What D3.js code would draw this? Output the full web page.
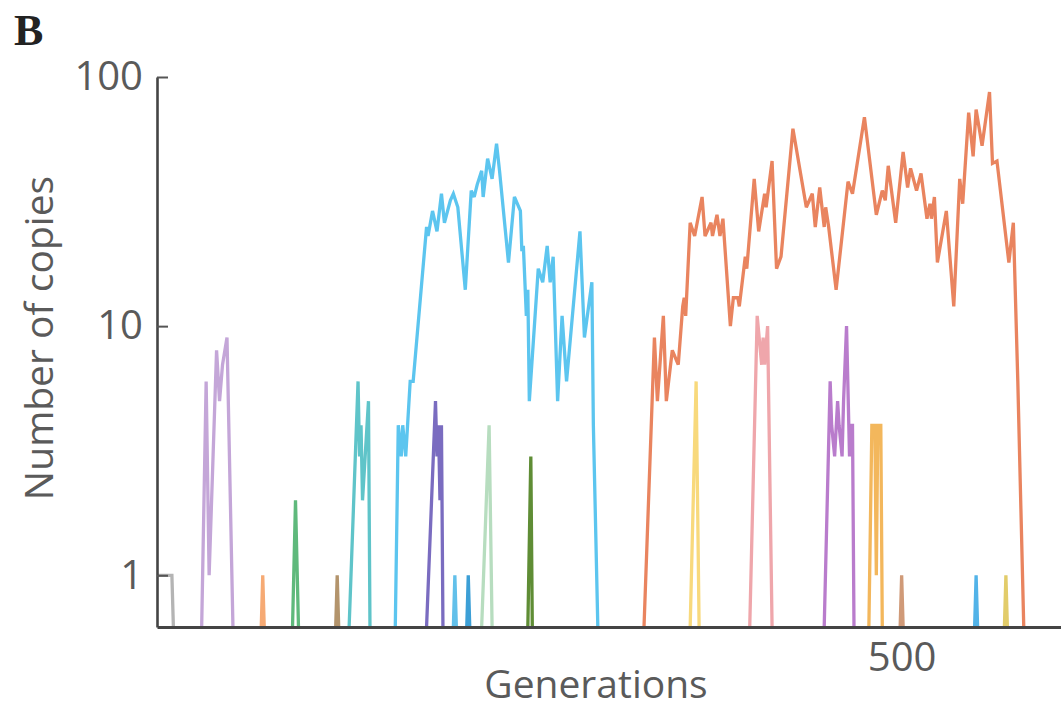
<!DOCTYPE html>
<html>
<head>
<meta charset="utf-8">
<script src="https://cdn.jsdelivr.net/npm/d3@7"></script>
<style>
  html, body { margin: 0; padding: 0; background: #fff; }
  svg { display: block; }
</style>
</head>
<body>
<svg id="chart" width="1061" height="710"></svg>
<script>
// ---------- data: [generation, number of copies] (0 = lineage absent) ----------
const yTicks = [1, 10, 100];
const xTicks = [500];

const grayLineage   = [[0,1],[10,1],[11,0]];
const lavender      = [[30,0],[33,6],[35,1],[40,8],[42,5],[44,7],[47,9],[51,0]];
const orangeSpike   = [[70,0],[71,1],[72,0]];
const greenSpike    = [[91,0],[93,2],[95,0]];
const tanSpike      = [[120,0],[121,1],[122,0]];
const tealLineage   = [[129,0],[135,6],[136,3],[137,4],[138,2],[142,5],[143,0]];
const blueLineage   = [[160,0],[162,4],[164,3],[165,4],[167,3],[170,6],[172,6],[181,25],[182,23],[185,29],[188,24],[191,34],[193,26],[197,32],[199,34],[202,30],[207,14],[211,35],[213,33],[215,37],[218,42],[219,33],[222,47],[225,39],[228,54],[230,42],[236,18],[240,33],[244,29],[245,20],[246,21],[248,11],[249,14],[250,5],[256,17],[259,15],[262,21],[264,15],[266,19],[269,5],[272,11],[275,6],[284,24],[287,9],[292,15],[293,4],[296,0]];
const indigoLineage = [[181,0],[187,5],[188,3],[189,4],[190,2],[191,4],[192,0]];
const skySpike      = [[199,0],[200,1],[201,0]];
const deepBlueSpike = [[208,0],[209,1],[210,0]];
const paleGreen     = [[218,0],[223,4],[225,0]];
const oliveSpike    = [[249,0],[251,3],[252,0]];
const redLineage    = [[327,0],[334,9],[336,5],[340,11],[342,5],[346,8],[350,7],[353,12],[354,13],[355,11],[358,26],[361,23],[366,33],[368,23],[372,26],[373,23],[376,28],[378,23],[380,27],[385,10],[387,13],[390,13],[391,12],[395,19],[396,17],[401,39],[404,24],[408,34],[409,30],[413,46],[416,17],[419,19],[427,62],[436,30],[440,34],[442,25],[445,36],[448,25],[449,30],[451,25],[456,14],[464,38],[467,34],[475,69],[483,28],[487,35],[489,32],[491,44],[496,26],[501,50],[504,36],[506,43],[510,35],[513,41],[517,27],[519,31],[520,27],[522,33],[524,18],[530,29],[535,12],[539,39],[541,31],[545,72],[548,48],[550,74],[554,53],[559,87],[561,45],[564,46],[572,18],[575,26],[578,6],[582,0]];
const yellowLineage = [[358,0],[362,6],[364,0]];
const pinkLineage   = [[398,0],[403,11],[406,7],[407,9],[408,7],[410,10],[413,0]];
const violetLineage = [[448,0],[452,6],[453,4],[455,3],[457,5],[458,4],[460,3],[461,5],[463,10],[465,3],[466,4],[467,4],[468,0]];
const amberLineage  = [[478,0],[480,4],[482,4],[483,1],[484,4],[486,4],[487,0]];
const tanSpike2     = [[499,0],[500,1],[501,0]];
const blueSpike2    = [[549,0],[550,1],[551,0]];
const goldSpike     = [[569,0],[570,1],[571,0]];

const seriesList = [grayLineage, lavender, orangeSpike, greenSpike, tanSpike, tealLineage,
  blueLineage, indigoLineage, skySpike, deepBlueSpike, paleGreen, oliveSpike,
  redLineage, yellowLineage, pinkLineage, violetLineage, amberLineage, tanSpike2, blueSpike2, goldSpike];
const seriesColors = ["#b4b4b4", "#c4a6d8", "#f6aa74", "#5fb97c", "#b3946c", "#5fc4c9",
  "#5cc5ef", "#7a6cc0", "#62c0ea", "#3c9fd6", "#b7ddbf", "#5f8d35",
  "#e9845f", "#f8d97c", "#efa6ab", "#b97ccc", "#f3b75c", "#d09a78", "#52b3e8", "#e2cc6a"];

// ---------- chart ----------
const svg = d3.select("#chart");
const yMin = 0.62;
const x = d3.scaleLinear().domain([0, 607]).range([157, 1061]);
const y = d3.scaleLog().domain([yMin, 100]).range([627, 77]);

const line = d3.line()
  .x(d => x(d[0]))
  .y(d => y(Math.max(d[1], yMin)));

const fontFam = "'Open Sans', 'Noto Sans', sans-serif";

svg.append("g").selectAll("path")
  .data(seriesList)
  .join("path")
  .attr("d", line)
  .attr("fill", "none")
  .attr("stroke", (d, i) => seriesColors[i])
  .attr("stroke-width", 3.3)
  .attr("stroke-linejoin", "miter")
  .attr("stroke-miterlimit", 3);

// y axis
const yAxis = svg.append("g")
  .attr("transform", "translate(157,0)")
  .call(d3.axisLeft(y).tickValues(yTicks).tickFormat(d3.format("d"))
    .tickSize(-11).tickSizeOuter(0).tickPadding(14));
yAxis.select(".domain").attr("stroke", "#444").attr("stroke-width", 2.6);
yAxis.selectAll(".tick line").attr("stroke", "#555").attr("stroke-width", 2);
yAxis.selectAll(".tick text").attr("font-family", fontFam).attr("font-size", 40)
  .attr("fill", "#5a5a5a");

// x axis
const xAxis = svg.append("g")
  .attr("transform", "translate(0,627)")
  .call(d3.axisBottom(x).tickValues(xTicks).tickSize(0).tickSizeOuter(0).tickPadding(16));
xAxis.select(".domain").attr("stroke", "#444").attr("stroke-width", 3);
xAxis.selectAll(".tick text").attr("font-family", fontFam).attr("font-size", 40)
  .attr("fill", "#5a5a5a");

// axis titles
svg.append("text")
  .attr("x", 596).attr("y", 698)
  .attr("text-anchor", "middle")
  .attr("font-family", fontFam).attr("font-size", 39).attr("fill", "#5a5a5a")
  .text("Generations");

svg.append("text")
  .attr("transform", "translate(53,338) rotate(-90)")
  .attr("text-anchor", "middle")
  .attr("font-family", fontFam).attr("font-size", 39).attr("fill", "#5a5a5a")
  .text("Number of copies");

// panel letter
svg.append("text")
  .attr("x", 14).attr("y", 45)
  .attr("font-family", "'Liberation Serif', 'DejaVu Serif', serif")
  .attr("font-weight", "bold").attr("font-size", 44).attr("fill", "#222")
  .text("B");
</script>
</body>
</html>
